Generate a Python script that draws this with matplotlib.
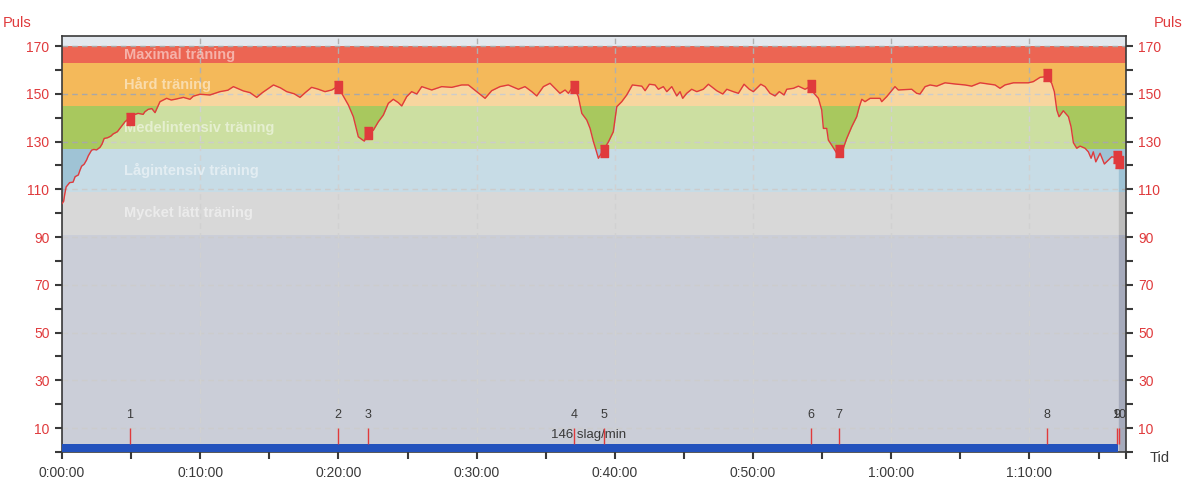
import matplotlib.pyplot as plt
from matplotlib.ticker import MultipleLocator, FixedLocator, FuncFormatter

# heart rate curve, time in minutes
minutes = [0.0, 0.12, 0.2, 0.3, 0.55, 0.8, 0.95, 1.18, 1.3, 1.42, 1.6, 1.78, 1.9, 2.14, 2.3, 2.5,
           2.75, 2.9, 3.05, 3.3, 3.54, 3.7, 4.0, 4.25, 4.56, 4.92, 5.1, 5.5, 5.87, 6.0, 6.24, 6.5,
           6.73, 7.09, 7.57, 7.9, 8.18, 8.78, 9.26, 9.5, 9.98, 10.7, 11.43, 12.0, 12.4, 13.12,
           13.6, 14.09, 14.5, 15.3, 15.8, 16.26, 16.8, 17.22, 17.6, 18.06, 18.5, 19.03, 19.52,
           19.92, 20.24, 20.72, 21.08, 21.44, 21.69, 21.87, 22.12, 22.53, 22.89, 23.25, 23.61,
           23.97, 24.33, 24.58, 24.94, 25.30, 25.67, 26.03, 26.75, 27.47, 28.20, 28.92, 29.40,
           30.01, 30.61, 31.09, 31.69, 32.29, 33.02, 33.50, 33.99, 34.35, 34.83, 35.31, 35.67,
           36.03, 36.40, 36.64, 37.00, 37.36, 37.61, 37.97, 38.21, 38.44, 38.64, 38.81, 39.17,
           39.54, 39.89, 40.14, 40.50, 40.86, 41.27, 41.95, 42.19, 42.50, 42.91, 43.15, 43.51,
           43.76, 44.12, 44.48, 44.72, 44.91, 45.20, 45.56, 45.93, 46.40, 46.77, 47.37, 47.81,
           48.10, 48.57, 48.94, 49.35, 49.73, 50.02, 50.56, 50.87, 51.23, 51.59, 51.90, 52.24,
           52.44, 52.92, 53.28, 53.76, 54.20, 54.41, 54.73, 54.97, 55.09, 55.33, 55.45, 55.69,
           56.06, 56.53, 56.78, 57.14, 57.50, 57.69, 57.87, 58.10, 58.47, 59.19, 59.31, 59.67,
           59.91, 60.27, 60.51, 61.48, 61.84, 62.08, 62.45, 62.81, 63.29, 63.89, 64.62, 65.34,
           65.82, 66.43, 67.03, 67.51, 67.87, 68.23, 68.84, 69.44, 69.92, 70.28, 70.77, 71.25,
           71.61, 71.80, 71.98, 72.14, 72.45, 72.82, 73.01, 73.18, 73.42, 73.66, 74.02, 74.26,
           74.46, 74.62, 74.80, 75.11, 75.42, 75.95, 76.19, 76.43]
puls = [104, 105, 108, 111, 112.8, 113, 115.3, 116, 118, 119.7, 120.5, 122.3, 124, 126.4, 126.7, 126.5,
        127.6, 129, 131.3, 131.6, 132.3, 133.2, 134.1, 136, 138.3, 140.1, 141, 141.8, 141.4, 142.5, 143.5, 143.8,
        142.1, 146.7, 148.1, 147.4, 147.7, 148.5, 147.7, 149, 149.8, 149.5, 150.9, 151.5, 153, 151.2,
        150.5, 148.5, 150.5, 153.7, 152.5, 150.9, 150, 148.5, 150.5, 152.7, 152, 150.9, 151.6,
        153, 150.2, 145.3, 140.4, 132, 130.9, 130.2, 133.1, 134.8, 138.3, 141.1, 146,
        147.7, 146.3, 144.9, 148.8, 150.9, 149.9, 153, 151.6, 153, 152.7, 153.7, 153.7,
        150.9, 148.1, 151.3, 153, 153.7, 151.9, 153, 150.9, 149.1, 153, 154.4, 152.3,
        150.2, 151.6, 150.2, 153.2, 148.8, 141.8, 139, 135.5, 130.2, 126.4, 123, 126.4,
        129.9, 134.1, 144.6, 146.7, 149.5, 153.7, 153.2, 151.3, 154, 153.7, 151.9, 153,
        150.9, 153, 149.1, 150.9, 148.1, 150.2, 151.9, 150.9, 151.9, 154, 151.3, 149.9,
        151.9, 150.9, 150.2, 154, 151.9, 150.9, 154, 153, 150.2, 149.1, 150.9, 149.5,
        151.9, 152.3, 153.2, 151.9, 153.2, 150.2, 148.1, 143.2, 135.5, 135.5, 130.6, 128.5,
        125.1, 127.2, 131.3, 136.2, 140.4, 144.6, 147.7, 146.7, 148.1, 148.1, 146.7, 148.8,
        150.5, 153, 151.6, 151.9, 150.2, 149.9, 153, 153.7, 153.2, 154.6, 154.1, 153.7,
        153.2, 154.6, 154.1, 153.7, 152.3, 153.7, 154.6, 154.6, 154.6, 155.1, 156.9, 157.2,
        154.4, 150.9, 143.2, 140.4, 142.9, 140.4, 136.2, 129.5, 127.2, 128.1, 127.2, 125.7,
        123, 125.7, 121.5, 125.1, 120.6, 123.6, 123.4, 121.5]

# laps
lap_nr = ['1', '2', '3', '4', '5', '6', '7', '8', '9', '10']
lap_min = [4.92, 19.95, 22.12, 37.03, 39.2, 54.2, 56.2, 71.27, 76.3, 76.45]
lap_puls = [139.5, 152.8, 133.6, 152.8, 126.2, 153.2, 126.2, 158, 123.5, 121.5]

# training zones: (lower, upper, colour, label)
zone_lo = [0, 91, 109, 127, 145, 163, 170]
zone_hi = [91, 109, 127, 145, 163, 170, 174.2]
zone_col = ['#a6abbc', '#bcbcbc', '#9fc3d5', '#a8c85e', '#f4b95a', '#ec6553', '#e3e8ee']
zone_lbl = ['', 'Mycket lätt träning', 'Lågintensiv träning', 'Medelintensiv träning',
            'Hård träning', 'Maximal träning', '']
zone_lbl_y = [0, 100, 118, 135.7, 154, 166.4, 0]

avg_text = '146 slag/min'

RED = '#e03a3c'
GREY = '#3a3a3a'
plt.rcParams['font.family'] = ['Liberation Sans', 'DejaVu Sans']

fig = plt.figure(figsize=(11.86, 4.84), dpi=100)
ax = fig.add_axes([62 / 1186, 1 - 452 / 484, (1125.5 - 62) / 1186, (452 - 36) / 484])
xmax = 76.95
ax.set_xlim(0, xmax)
ax.set_ylim(0, 174.2)

for lo, hi, c in zip(zone_lo, zone_hi, zone_col):
    ax.axhspan(lo, hi, color=c, lw=0, zorder=0)

# grid sits under the washed area
for y in range(10, 171, 20):
    ax.axhline(y, color='#a8a8a8', lw=1, ls=(0, (4, 3)), zorder=0.5)
for x in range(10, 80, 10):
    ax.axvline(x, color='#b0b0b0', lw=1, ls=(0, (4, 3)), zorder=0.5)

# washed area under the curve
ax.fill_between(minutes, 0, puls, color='white', alpha=0.42, lw=0, zorder=1)

for lbl, y in zip(zone_lbl, zone_lbl_y):
    if lbl:
        ax.text(4.49, y, lbl, color='white', alpha=0.5, fontsize=10.5, fontweight='bold',
                va='center', ha='left', zorder=2)

ax.plot(minutes, puls, color=RED, lw=1, zorder=4)

rect = [(-0.3, -0.5), (0.3, -0.5), (0.3, 0.5), (-0.3, 0.5)]
ax.plot(lap_min, lap_puls, ls='none', marker=rect, ms=8.5, color=RED, mec=RED, zorder=5)

# bottom bar and lap lines
ax.fill_between([0, minutes[-1]], 0, 3.4, color='#2352bd', lw=0, zorder=3)
ax.vlines(lap_min, 3.4, 10, color=RED, lw=1, zorder=4)
for nr, t in zip(lap_nr, lap_min):
    ax.text(t, 15.4, nr, ha='center', va='center', fontsize=9, color=GREY, zorder=5)
ax.text(38.1, 7.1, avg_text, ha='center', va='center', fontsize=9.5, color=GREY, zorder=3)

# axes styling
for s in ax.spines.values():
    s.set_color(GREY)
    s.set_linewidth(1.2)
ax.yaxis.set_major_locator(FixedLocator(range(10, 171, 20)))
ax.yaxis.set_minor_locator(FixedLocator(range(0, 171, 20)))
ax.xaxis.set_major_locator(MultipleLocator(10))
ax.xaxis.set_minor_locator(FixedLocator([5, 15, 25, 35, 45, 55, 65, 75, xmax]))
ax.xaxis.set_major_formatter(FuncFormatter(lambda v, p: f'{int(v // 60)}:{int(v % 60):02d}:00'))
ax.tick_params(axis='y', which='both', left=True, right=True, labelleft=True, labelright=True,
               direction='out', length=5, width=1.5, color=GREY, labelcolor=RED, labelsize=10, pad=4)
ax.tick_params(axis='x', which='both', direction='out', length=5, width=1.5, color=GREY,
               labelcolor=GREY, labelsize=10, pad=5)

fig.text(17 / 1186, 1 - 23 / 484, 'Puls', color=RED, fontsize=10.5, ha='center', va='center')
fig.text(1168 / 1186, 1 - 23 / 484, 'Puls', color=RED, fontsize=10.5, ha='center', va='center')
fig.text(1160 / 1186, 1 - 458 / 484, 'Tid', color=GREY, fontsize=10.5, ha='center', va='center')

fig.savefig('out.png', dpi=100)
